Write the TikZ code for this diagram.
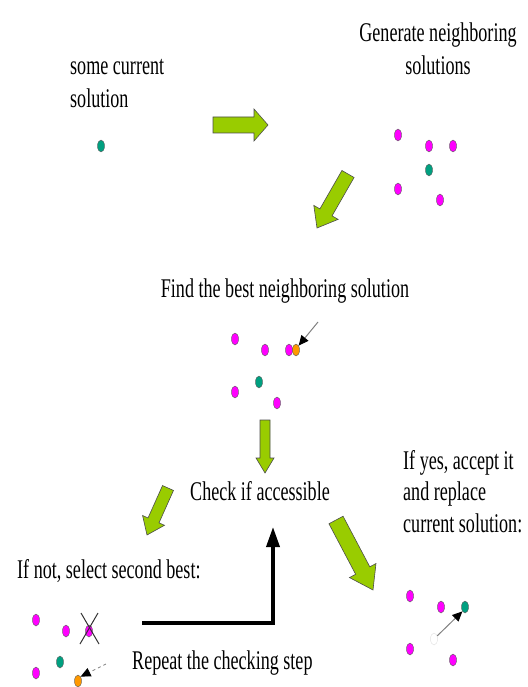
\documentclass[tikz,border=0pt]{standalone}
\usepackage{fontspec}
\setmainfont{Liberation Serif}[FakeStretch=0.67]
\usetikzlibrary{shapes.geometric,arrows.meta,calc}
\definecolor{limegreen}{RGB}{153,204,0}
\definecolor{dotmag}{RGB}{255,0,255}
\definecolor{dotteal}{RGB}{0,160,128}
\definecolor{dotorange}{RGB}{255,153,0}
\newcommand\blockarrow[6]{%
  \coordinate (#1-s) at #2;
  \coordinate (#1-e) at #3;
  \coordinate (#1-h) at ($(#1-e)!#6pt!(#1-s)$);
  \filldraw[blockarr]
    ($(#1-s)!#4pt!90:(#1-e)$) -- ($(#1-h)!#4pt!-90:(#1-s)$) --
    ($(#1-h)!#5pt!-90:(#1-s)$) -- (#1-e) --
    ($(#1-h)!#5pt!90:(#1-s)$) -- ($(#1-h)!#4pt!90:(#1-s)$) --
    ($(#1-s)!#4pt!-90:(#1-e)$) -- cycle;
}
\begin{document}
\begin{tikzpicture}[x=1pt,y=-1pt,
  lbl/.style={inner sep=0pt, font=\fontsize{27}{33}\selectfont},
  dot/.style={ellipse, minimum width=7pt, minimum height=12pt, inner sep=0pt,
    draw=gray!70!black, line width=0.4pt},
  mag/.style={dot, fill=dotmag},
  teal/.style={dot, fill=dotteal},
  orng/.style={dot, fill=dotorange},
  ghost/.style={dot, fill=white, draw=gray!25},
  blockarr/.style={fill=limegreen, draw=gray!60!black, line width=0.6pt, line join=miter},
  ptr/.style={draw=gray, line width=1pt, -{Triangle[length=10pt,width=9pt,black]}},
  loop/.style={line width=3.5pt, -{Triangle[length=20pt,width=13pt]}},
  cross/.style={line width=1pt, black!80}
]
\useasboundingbox (0,0) rectangle (527,687);

% texts
\node[lbl, anchor=base west] (cur1) at (70,75) {some current};
\node[lbl, anchor=base west] (cur2) at (70,108) {solution};
\node[lbl, anchor=base] (gen1) at (438,42) {Generate neighboring};
\node[lbl, anchor=base] (gen2) at (438,75) {solutions};
\node[lbl, anchor=base] (find) at (285,297) {Find the best neighboring solution};
\node[lbl, anchor=base] (check) at (260,500) {Check if accessible};
\node[lbl, anchor=base west] (ifnot) at (17,578) {If not, select second best:};
\node[lbl, anchor=base west] (yes1) at (403,469) {If yes, accept it};
\node[lbl, anchor=base west] (yes2) at (403,500) {and replace};
\node[lbl, anchor=base west] (yes3) at (403,532) {current solution:};
\node[lbl, anchor=base west] (repeat) at (132,669) {Repeat the checking step};

% current solution
\node[teal] (c0) at (101,146) {};

% neighbours
\node[mag] (n1) at (398,135) {};
\node[mag] (n2) at (429,146) {};
\node[mag] (n3) at (453,146) {};
\node[teal] (n0) at (429,170) {};
\node[mag] (n4) at (398,189) {};
\node[mag] (n5) at (440,200) {};

% best neighbour
\node[mag] (b1) at (235,339) {};
\node[mag] (b2) at (265,350) {};
\node[mag] (b3) at (289,350) {};
\node[orng] (best) at (296,350) {};
\node[teal] (b0) at (259,382) {};
\node[mag] (b4) at (235,392) {};
\node[mag] (b5) at (277,403) {};
\coordinate (bp) at (318,322);
\draw[ptr] (bp) -- (best.north east);

% second best
\node[mag] (s1) at (36,620) {};
\node[mag] (s2) at (66,631) {};
\node[mag] (sx) at (89,631) {};
\node[teal] (s0) at (60,662) {};
\node[mag] (s4) at (36,673) {};
\node[orng] (second) at (78,681) {};
\draw[cross] (81,613) -- (99,644);
\draw[cross] (98,613) -- (80,644);
\coordinate (sp) at (106,664);
\draw[ptr, dashed, line width=0.8pt] (sp) -- (second.north east);

% accepted
\node[mag] (a1) at (410,596) {};
\node[mag] (a2) at (441,607) {};
\node[teal] (anew) at (465,607) {};
\node[ghost] (aold) at (434,639) {};
\node[mag] (a4) at (410,649) {};
\node[mag] (a5) at (453,660) {};
\draw[ptr] (aold) -- (anew.south west);

% block arrows
\blockarrow{ar1}{(213,125)}{(268,125)}{8}{16}{14}
\blockarrow{ar2}{(348,174)}{(317,228)}{7}{14}{18}
\blockarrow{ar3}{(265,420)}{(265,473)}{5}{9}{15}
\blockarrow{ar4}{(168,488)}{(147,535)}{6}{12}{16}
\blockarrow{ar5}{(336,520)}{(373,590)}{8}{15}{22}

% repeat loop arrow
\coordinate (loopA) at (142,623);
\coordinate (loopB) at (273,527);
\draw[loop] (loopA) -| (loopB);
\end{tikzpicture}
\end{document}
